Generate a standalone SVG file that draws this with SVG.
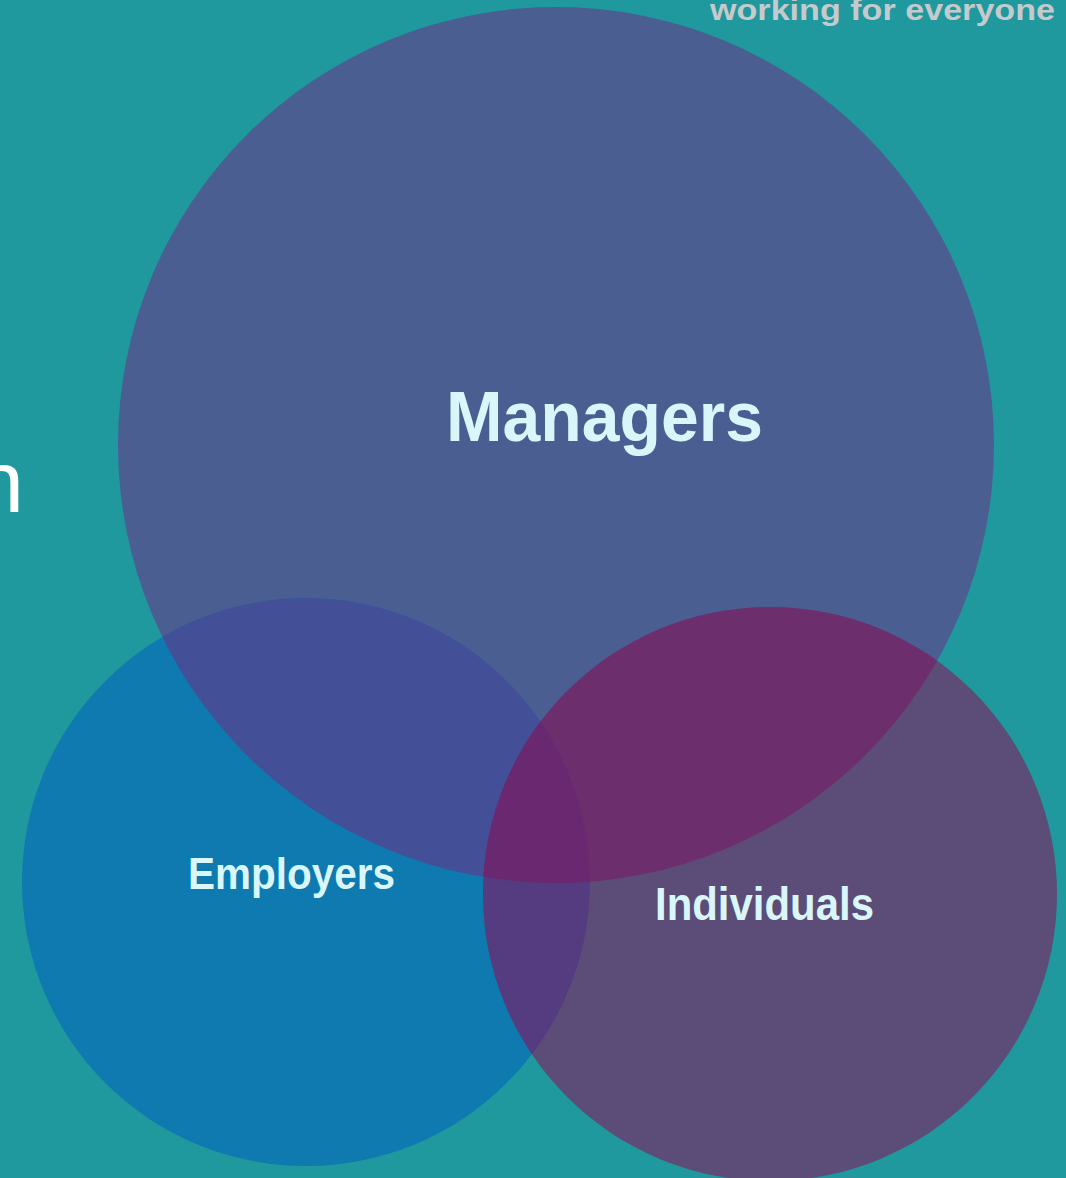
<svg xmlns="http://www.w3.org/2000/svg" width="1066" height="1178" viewBox="0 0 1066 1178">
<style>
.lbl{font-family:"Liberation Sans",Arial,sans-serif;font-weight:bold;fill:#d9f7fb}
.hdr{font-family:"Liberation Sans",Arial,sans-serif;font-weight:bold;fill:#c6cacc}
.side{font-family:"Liberation Sans",Arial,sans-serif;fill:#ffffff}
</style>
<defs>
<clipPath id="cM"><circle cx="556" cy="445" r="438"/></clipPath>
<clipPath id="cE"><circle cx="306" cy="882" r="284"/></clipPath>
<clipPath id="cI"><circle cx="770" cy="894" r="287"/></clipPath>
</defs>
<rect width="1066" height="1178" fill="#1f999e"/>
<text class="hdr" x="1055" y="20" font-size="30" text-anchor="end" textLength="345" lengthAdjust="spacingAndGlyphs">working for everyone</text>
<text class="side" x="24" y="512" font-size="88" text-anchor="end">n</text>
<g id="managers">
<circle cx="556" cy="445" r="438" fill="#4b5e91"/>
</g>
<g id="employers">
<circle cx="306" cy="882" r="284" fill="#0e7aaf"/>
<circle cx="306" cy="882" r="284" fill="#434f97" clip-path="url(#cM)"/>
</g>
<g id="individuals">
<circle cx="770" cy="894" r="287" fill="#5b4d78"/>
<circle cx="770" cy="894" r="287" fill="#6d2e6e" clip-path="url(#cM)"/>
<g clip-path="url(#cE)">
<circle cx="770" cy="894" r="287" fill="#553b7f"/>
<circle cx="770" cy="894" r="287" fill="#6a2870" clip-path="url(#cM)"/>
</g>
</g>
<g id="labels">
<text class="lbl" x="446" y="441" font-size="70" textLength="317" lengthAdjust="spacingAndGlyphs">Managers</text>
<text class="lbl" x="188" y="889" font-size="45" textLength="207" lengthAdjust="spacingAndGlyphs">Employers</text>
<text class="lbl" x="655" y="920" font-size="46" textLength="219" lengthAdjust="spacingAndGlyphs">Individuals</text>
</g>
<g id="connectors"/>
</svg>
